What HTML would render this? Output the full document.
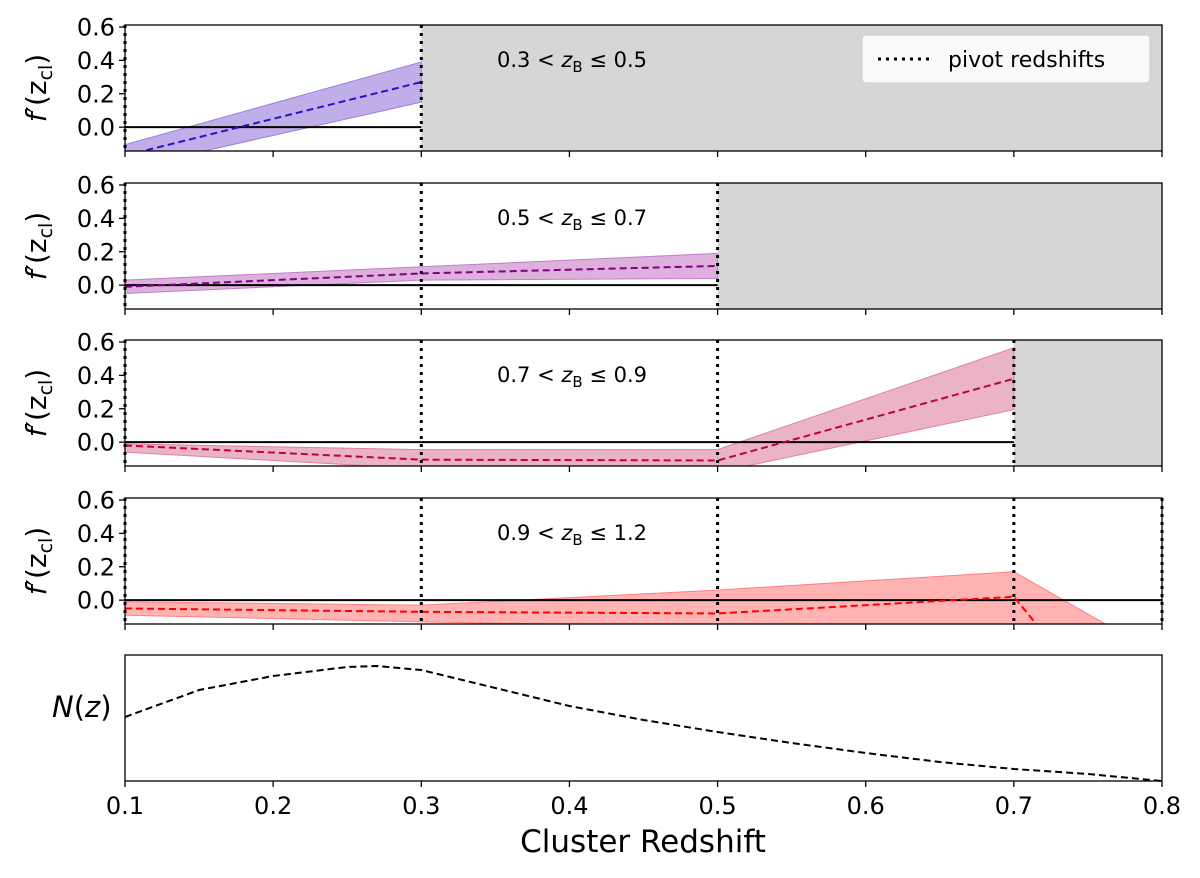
<!DOCTYPE html>
<html><head><meta charset="utf-8"><style>
html,body{margin:0;padding:0;background:#fff}
svg text{font-family:"DejaVu Sans","Liberation Sans",sans-serif}
</style></head><body>
<svg id="c" width="1200" height="873" viewBox="0 0 1200 873" xmlns="http://www.w3.org/2000/svg"></svg>
<script>
const xTicks=[0.1,0.2,0.3,0.4,0.5,0.6,0.7,0.8];
const yTicks=[0.0,0.2,0.4,0.6];
const binLabels=["0.3","0.5","0.7","0.9","1.2"];
const p1x=[0.1,0.3], p1c=[-0.17,0.27], p1lo=[-0.25,0.15], p1hi=[-0.105,0.39];
const p2x=[0.1,0.3,0.5], p2c=[-0.01,0.07,0.115], p2lo=[-0.05,0.03,0.04], p2hi=[0.03,0.11,0.19];
const p3x=[0.1,0.3,0.5,0.7], p3c=[-0.02,-0.105,-0.11,0.38], p3lo=[-0.06,-0.16,-0.18,0.195], p3hi=[-0.01,-0.045,-0.045,0.565];
const p4x=[0.1,0.3,0.5,0.7,0.8], p4c=[-0.05,-0.07,-0.08,0.02,-1.06], p4lo=[-0.09,-0.13,-0.16,-0.16,-1.0], p4hi=[-0.01,-0.03,0.06,0.17,-0.337];
const pivots=[[0.1,0.3],[0.1,0.3,0.5],[0.1,0.3,0.5,0.7],[0.1,0.3,0.5,0.7,0.8]];
const nzX=[0.1,0.15,0.2,0.25,0.27,0.3,0.35,0.4,0.45,0.5,0.55,0.6,0.65,0.7,0.75,0.8];
const nzY=[0.64,0.91,1.05,1.14,1.15,1.11,0.93,0.75,0.61,0.49,0.38,0.28,0.19,0.12,0.07,0.0];
const panels=[
 {x:p1x,c:p1c,lo:p1lo,hi:p1hi,line:"#2a10d0",band:"#c0aee8",edge:"#9a80e0"},
 {x:p2x,c:p2c,lo:p2lo,hi:p2hi,line:"#800080",band:"#ddb0dd",edge:"#c080c8"},
 {x:p3x,c:p3c,lo:p3lo,hi:p3hi,line:"#c00040",band:"#ebb3c6",edge:"#e080a0"},
 {x:p4x,c:p4c,lo:p4lo,hi:p4hi,line:"#ff0000",band:"#ffb3b3",edge:"#ff8080"}];
const tops=[25,183,340,498];
const L=125,R=1162,H=126,ymin=-0.143,ymax=0.612;
const svg=document.getElementById('c');
const NS="http://www.w3.org/2000/svg";
function mk(t,a,p){const e=document.createElementNS(NS,t);for(const k in a)e.setAttribute(k,a[k]);(p||svg).appendChild(e);return e;}
const X=v=>L+(v-0.1)/0.7*(R-L);
panels.forEach((p,i)=>{
 const T=tops[i];
 const Y=v=>T+(ymax-v)/(ymax-ymin)*H;
 const g=mk('g',{});
 
 
 const cid='clip'+i;
 const cp=mk('clipPath',{id:cid},g);mk('rect',{x:L,y:T,width:R-L,height:H},cp);
 const inner=mk('g',{'clip-path':'url(#'+cid+')'},g);
 const last=pivots[i][pivots[i].length-1];
 if(last<0.8){const s=mk('rect',{x:X(last),y:T,width:R-X(last),height:H,fill:"#d6d6d6"},inner);
  }
 let d='M'+p.x.map((x,j)=>X(x)+','+Y(p.hi[j])).join('L');
 for(let j=p.x.length-1;j>=0;j--)d+='L'+X(p.x[j])+','+Y(p.lo[j]);
 const b=mk('path',{d:d+'Z',fill:p.band,stroke:p.edge,'stroke-width':1},inner);
 
 const zl=mk('line',{x1:X(0.1),x2:X(last),y1:Y(0),y2:Y(0),stroke:"#000",'stroke-width':2},inner);
 
 const ln=mk('polyline',{points:p.x.map((x,j)=>X(x)+','+Y(p.c[j])).join(' '),fill:'none',stroke:p.line,'stroke-width':2,'stroke-dasharray':'7,4'},inner);
 
 pivots[i].forEach(v=>{const pl=mk('line',{x1:X(v),x2:X(v),y1:T,y2:T+H,stroke:"#000",'stroke-width':3,'stroke-dasharray':'3,5'},g);
  });
 mk('rect',{x:L,y:T,width:R-L,height:H,fill:'none',stroke:'#000','stroke-width':1.3},g);
 yTicks.forEach(v=>{mk('line',{x1:L-6,x2:L,y1:Y(v),y2:Y(v),stroke:'#000','stroke-width':1.3},g);
  const t=mk('text',{x:L-10,y:Y(v)+8.5,'text-anchor':'end','font-size':24},g);t.textContent=v.toFixed(1);
  });
 xTicks.forEach(v=>mk('line',{x1:X(v),x2:X(v),y1:T+H,y2:T+H+6,stroke:'#000','stroke-width':1.3},g));
 const yl=mk('text',{transform:`translate(46,${T+H/2}) rotate(-90)`,'text-anchor':'middle','font-size':28},g);
 yl.innerHTML='<tspan font-style="italic">f</tspan>′(z<tspan font-size="19" dy="6">cl</tspan><tspan dy="-6">)</tspan>';
 
 const bl=mk('text',{x:497,y:T+42,'font-size':21},g);
 bl.innerHTML=binLabels[i]+' &lt; <tspan font-style="italic">z</tspan><tspan font-size="15" dy="5">B</tspan><tspan dy="-5"> ≤ '+binLabels[i+1]+'</tspan>';
 
});
// legend
const lg=mk('g',{});


mk('rect',{x:862,y:35,width:288,height:48,rx:4,fill:'#fafafa',stroke:'#d0d0d0','stroke-width':1.2},lg);
mk('line',{x1:878,x2:934,y1:59,y2:59,stroke:'#000','stroke-width':3,'stroke-dasharray':'3,5'},lg);
const lt=mk('text',{x:948,y:67,'font-size':22},lg);lt.textContent='pivot redshifts';
// N(z)
const T5=655,H5=126;
const Yn=v=>T5+H5-v/1.26*H5;
const g5=mk('g',{});


const nl=mk('polyline',{points:nzX.map((x,j)=>X(x)+','+Yn(nzY[j])).join(' '),fill:'none',stroke:'#000','stroke-width':2,'stroke-dasharray':'7,4'},g5);

mk('rect',{x:L,y:T5,width:R-L,height:H5,fill:'none',stroke:'#000','stroke-width':1.3},g5);
xTicks.forEach(v=>{mk('line',{x1:X(v),x2:X(v),y1:T5+H5,y2:T5+H5+6,stroke:'#000','stroke-width':1.3},g5);
 const t=mk('text',{x:X(v),y:T5+H5+33,'text-anchor':'middle','font-size':24},g5);t.textContent=v.toFixed(1);
 });
const nt=mk('text',{x:52,y:717,'font-size':29},g5);
nt.innerHTML='<tspan font-style="italic">N</tspan>(<tspan font-style="italic">z</tspan>)';

const xt=mk('text',{x:643,y:852,'text-anchor':'middle','font-size':31});
xt.textContent='Cluster Redshift';

</script>
</body></html>
